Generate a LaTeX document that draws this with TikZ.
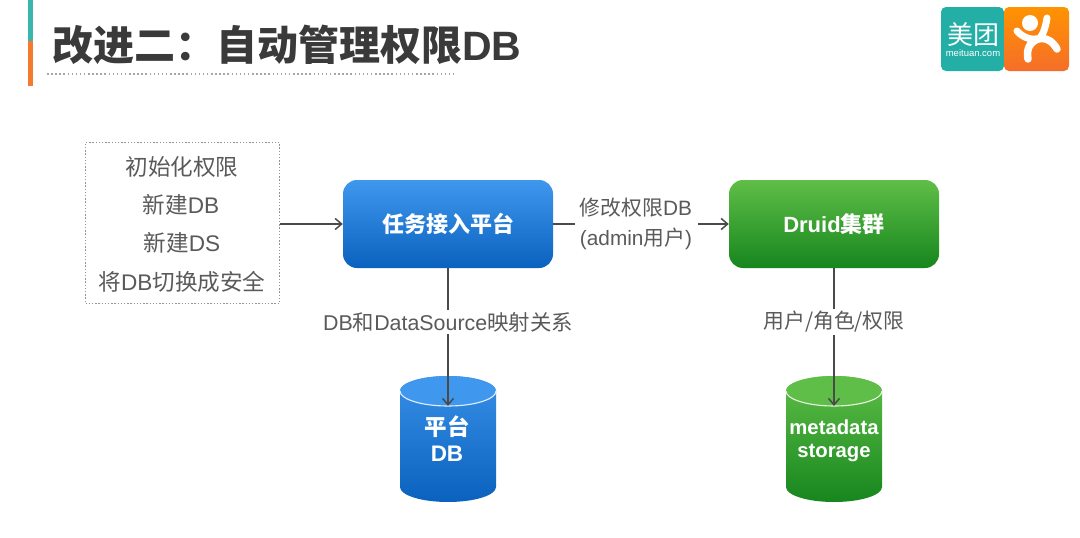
\documentclass[tikz,border=0pt]{standalone}
\usepackage{fontspec}
\setmainfont{Liberation Sans}
\newfontfamily\cjk{Noto Sans CJK SC}
\usetikzlibrary{arrows.meta,shadings}
\definecolor{blueT}{HTML}{3F97EE}
\definecolor{blueB}{HTML}{0A62BE}
\definecolor{greenT}{HTML}{5FBE47}
\definecolor{greenB}{HTML}{16861E}
\definecolor{tealC}{HTML}{23AFA5}
\definecolor{orangeC}{HTML}{F47A2E}
\definecolor{txt}{HTML}{5A5A5A}
\definecolor{ttl}{HTML}{3A3A3A}
\definecolor{arrowc}{HTML}{4A4A4A}
\tikzset{
  conn/.style={draw=arrowc,line width=1.5pt,-{Straight Barb[length=6.5pt,width=11pt,line width=1.5pt]}},
  lbl/.style={fill=white,inner sep=2pt,text=txt,font=\fontsize{21.4}{26}\selectfont,align=center},
  boxt/.style={rounded corners=14pt,minimum width=210pt,minimum height=88pt,inner sep=0pt,text=white,font=\fontsize{22}{25}\bfseries\selectfont},
  bluebox/.style={boxt,top color=blueT,bottom color=blueB},
  greenbox/.style={boxt,top color=greenT,bottom color=greenB},
  cyltxt/.style={text=white,align=center,inner sep=0pt,font=\fontsize{22.5}{25}\bfseries\selectfont}
}
\begin{document}
\begin{tikzpicture}[x=1pt,y=-1pt]
\useasboundingbox (0,0) rectangle (1080,538);
\fill[white] (0,0) rectangle (1080,538);
% title accents
\fill[tealC!90!white] (28,0) rectangle (33,41);
\fill[orangeC] (28,41) rectangle (33,86);
\node[anchor=west,inner sep=0pt,text=ttl,font=\fontsize{41}{46}\selectfont] (title) at (52,45) {{\cjk\bfseries 改进二：自动管理权限}\textbf{DB}};
\coordinate (dotsL) at (47,74);
\coordinate (dotsR) at (457,74);
\draw[draw=gray!70,line width=1.5pt,dash pattern=on 1.5pt off 2.6pt] (dotsL) -- (dotsR);
% logo
\fill[tealC,rounded corners=5pt] (1004,7) -- (941,7) -- (941,71) -- (1004,71) -- cycle;
\shade[top color=orange!85!yellow,bottom color=orangeC!90!red,rounded corners=5pt] (1004,7) -- (1069,7) -- (1069,71) -- (1004,71) -- cycle;
\node[text=white,inner sep=0pt,font=\fontsize{26}{28}\selectfont] (mtname) at (973,35) {\cjk 美团};
\node[text=white,inner sep=0pt,font=\fontsize{9.5}{11}\selectfont] (mturl) at (973,53.5) {meituan.com};
\fill[white] (1030,23) circle (8pt);
\draw[white,line width=7pt,line cap=round] (1017,31) .. controls (1023,38) and (1033,41) .. (1040,38) .. controls (1044,33) and (1046,25) .. (1047,18);
\draw[white,line width=7.5pt,line cap=round] (1028,59) .. controls (1026,49) and (1030,42) .. (1038,39) .. controls (1047,37) and (1053,42) .. (1057,49);
% dashed box
\node[draw=gray!85,line width=1.2pt,dash pattern=on 1.4pt off 1.8pt,minimum width=194pt,minimum height=161pt,inner sep=0pt] (src) at (182.5,223) {};
\node[lbl,fill=none,inner sep=0pt,font=\fontsize{22.6}{26}\selectfont] (s1) at (182,167) {\cjk 初始化权限};
\node[lbl,fill=none,inner sep=0pt,font=\fontsize{22.6}{26}\selectfont] (s2) at (181,205) {{\cjk 新建}DB};
\node[lbl,fill=none,inner sep=0pt,font=\fontsize{22.6}{26}\selectfont] (s3) at (182,243) {{\cjk 新建}DS};
\node[lbl,fill=none,inner sep=0pt,font=\fontsize{22.6}{26}\selectfont] (s4) at (182,282) {{\cjk 将}DB{\cjk 切换成安全}};
% main boxes
\node[bluebox] (plat) at (448,224) {\cjk\bfseries 任务接入平台};
\node[greenbox] (druid) at (834,224) {\textbf{Druid}{\cjk\bfseries 集群}};
% cylinders
\coordinate (dbtop) at (448,391);
\coordinate (mstop) at (834,391);
\shade[top color=blueT!85!blueB,bottom color=blueB] (400,391) -- (400,487) arc[start angle=180,end angle=360,x radius=48pt,y radius=15pt] -- (496,391) arc[start angle=0,end angle=180,x radius=48pt,y radius=15pt] -- cycle;
\fill[blueT] (dbtop) ellipse[x radius=48pt,y radius=15pt];
\draw[white!85!blueT,line width=1.1pt] (400,391) arc[start angle=180,end angle=360,x radius=48pt,y radius=15pt];
\shade[top color=greenT,bottom color=greenB] (786,391) -- (786,487) arc[start angle=180,end angle=360,x radius=48pt,y radius=15pt] -- (882,391) arc[start angle=0,end angle=180,x radius=48pt,y radius=15pt] -- cycle;
\fill[greenT] (mstop) ellipse[x radius=48pt,y radius=15pt];
\draw[white!85!greenT,line width=1.1pt] (786,391) arc[start angle=180,end angle=360,x radius=48pt,y radius=15pt];
\node[cyltxt] (dbtxt1) at (447,427) {\cjk\bfseries 平台};
\node[cyltxt] (dbtxt2) at (447,454) {DB};
\node[cyltxt,font=\fontsize{20.3}{25}\bfseries\selectfont] (ms1) at (834,427) {metadata};
\node[cyltxt,font=\fontsize{20.3}{25}\bfseries\selectfont] (ms2) at (834,453) {storage};
% connectors
\coordinate (dbhit) at (448,406);
\coordinate (mshit) at (834,406);
\draw[conn] (src.east |- plat.west) -- (plat.west);
\draw[conn] (plat.east) -- (druid.west) node[midway,lbl,xshift=-5pt,text width=119pt,font=\fontsize{20.8}{26}\selectfont] (edit) {{\cjk 修改权限}DB\\[4pt](admin{\cjk 用户})};
\draw[conn] (plat.south) -- (dbhit) node[pos=0.39,lbl] (map) {DB{\cjk 和}DataSource{\cjk 映射关系}};
\draw[conn] (druid.south) -- (mshit) node[pos=0.39,lbl,font=\fontsize{20.8}{26}\selectfont] (perm) {\cjk 用户/角色/权限};
\end{tikzpicture}
\end{document}
